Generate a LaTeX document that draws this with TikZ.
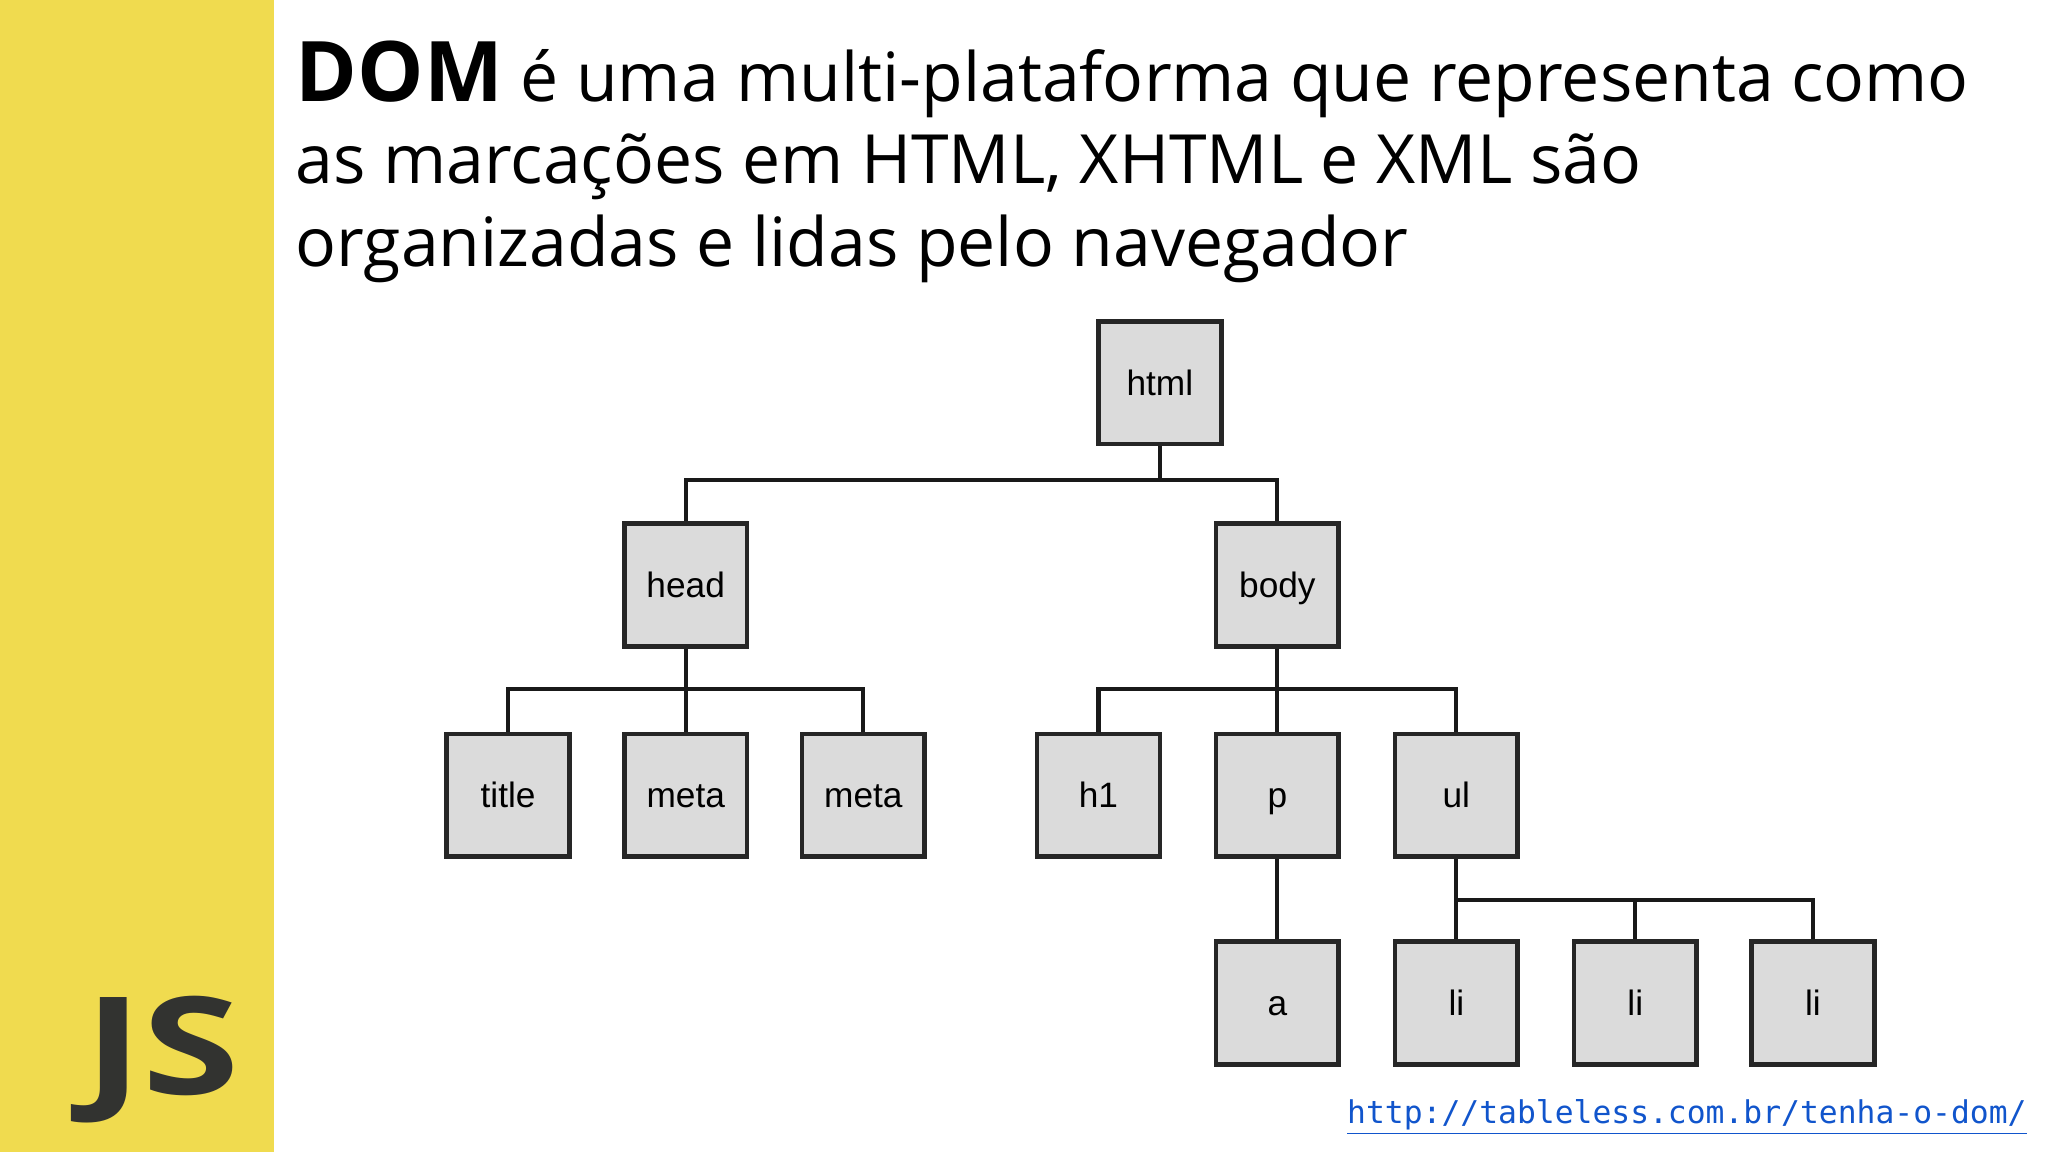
\documentclass[tikz,border=0pt]{standalone}
\usepackage{fontspec}
\setmainfont{Open Sans}
\newfontfamily\boxfont{Liberation Sans}
\newfontfamily\urlfont{DejaVu Sans Mono}
\definecolor{jsyellow}{RGB}{240,219,79}
\definecolor{jsdark}{RGB}{50,51,48}
\definecolor{urlblue}{RGB}{17,85,204}
\begin{document}
\begin{tikzpicture}[x=0.5pt,y=-0.5pt,
  el/.style={draw=black!85,line width=1.8pt,fill=black!14,minimum size=47pt,inner sep=0pt,text height=11.5pt,text depth=2pt,font=\boxfont\fontsize{13.5}{13.5}\selectfont},
  wire/.style={draw=black!90,line width=1.6pt}]
\useasboundingbox (0,0) rectangle (1568,882);
\fill[white] (0,0) rectangle (1568,882);
\fill[jsyellow] (0,0) rectangle (210,882);
\node[anchor=base west,inner sep=0pt,text=jsdark,xscale=1.3,transform shape,font=\bfseries\fontsize{52}{52}\selectfont] (js) at (64,838) {JS};
\node[anchor=north west,inner sep=0pt,align=left,font=\fontsize{26}{31.5}\selectfont] (title) at (226,31)
 {{\bfseries\fontsize{32}{32}\selectfont DOM} é uma multi-plataforma que representa como\\as marcações em HTML, XHTML e XML são\\organizadas e lidas pelo navegador};
\node[el] (html) at (888,293) {html};
\node[el] (head) at (525,448) {head};
\node[el] (body) at (978,448) {body};
\node[el] (title1) at (389,609) {title};
\node[el] (meta1) at (525,609) {meta};
\node[el] (meta2) at (661,609) {meta};
\node[el] (h1) at (841,609) {h1};
\node[el] (p) at (978,609) {p};
\node[el] (ul) at (1115,609) {ul};
\node[el] (a) at (978,768) {a};
\node[el] (li1) at (1115,768) {li};
\node[el] (li2) at (1252,768) {li};
\node[el] (li3) at (1388,768) {li};
\draw[wire] (html.south) -- ++(0,26) -| (head.north);
\draw[wire] (html.south) -- ++(0,26) -| (body.north);
\draw[wire] (head.south) -- ++(0,31) -| (title1.north);
\draw[wire] (head.south) -- (meta1.north);
\draw[wire] (head.south) -- ++(0,31) -| (meta2.north);
\draw[wire] (body.south) -- ++(0,31) -| (h1.north);
\draw[wire] (body.south) -- (p.north);
\draw[wire] (body.south) -- ++(0,31) -| (ul.north);
\draw[wire] (p.south) -- (a.north);
\draw[wire] (ul.south) -- (li1.north);
\draw[wire] (ul.south) -- ++(0,31) -| (li2.north);
\draw[wire] (ul.south) -- ++(0,31) -| (li3.north);
\node[anchor=base east,inner sep=0pt,text=urlblue,font=\urlfont\fontsize{12}{12}\selectfont] (url) at (1552,860) {\underline{http://tableless.com.br/tenha-o-dom/}};
\end{tikzpicture}
\end{document}
